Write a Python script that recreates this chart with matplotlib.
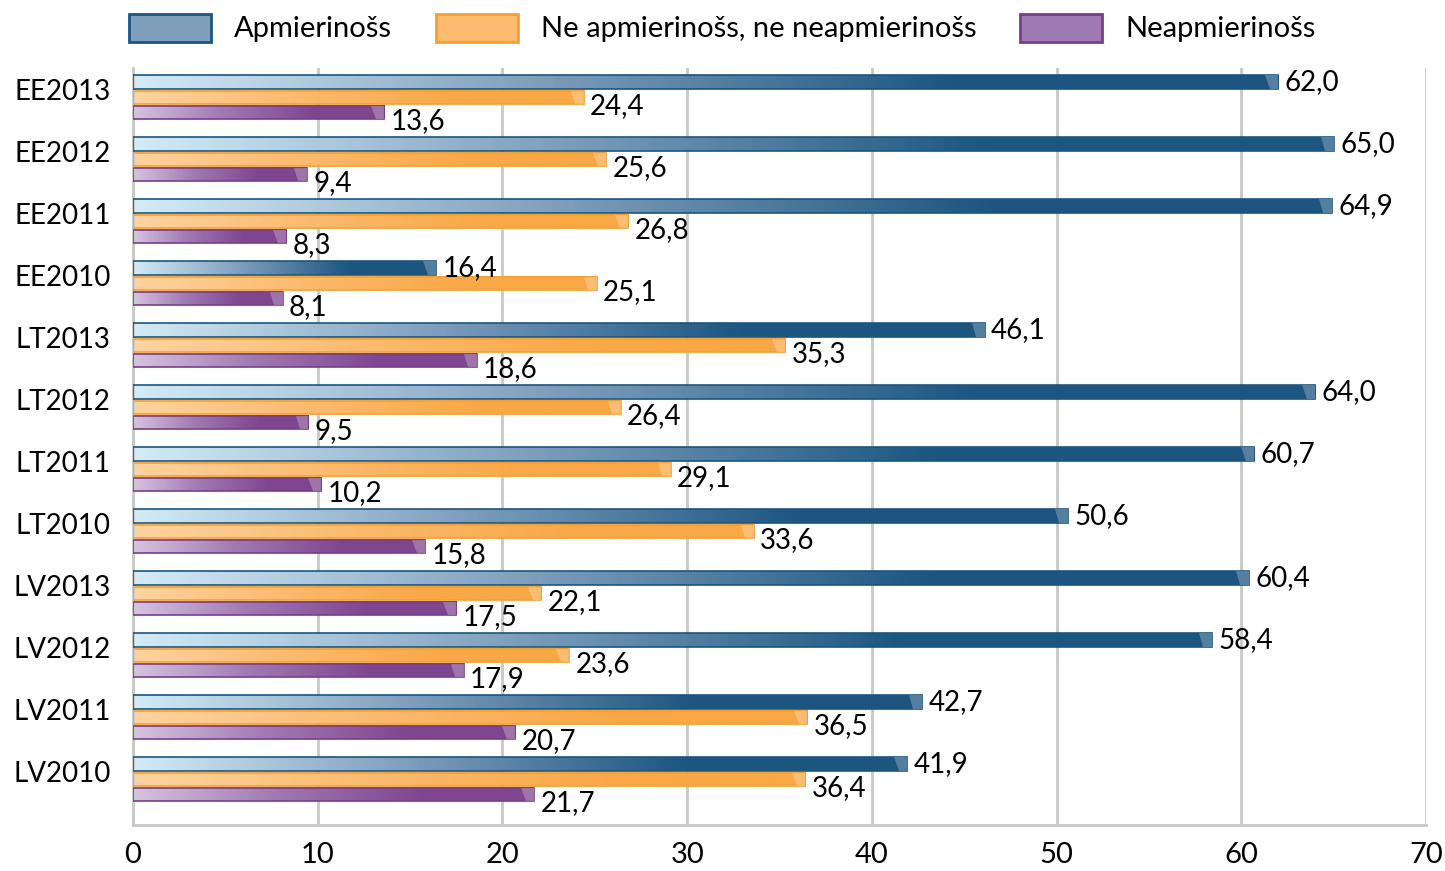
import matplotlib.pyplot as plt
import numpy as np
from matplotlib.colors import LinearSegmentedColormap
from matplotlib.patches import Patch, Polygon

categories = ['EE2013', 'EE2012', 'EE2011', 'EE2010', 'LT2013', 'LT2012',
              'LT2011', 'LT2010', 'LV2013', 'LV2012', 'LV2011', 'LV2010']
apmierinoss = [62.0, 65.0, 64.9, 16.4, 46.1, 64.0, 60.7, 50.6, 60.4, 58.4, 42.7, 41.9]
ne_ne = [24.4, 25.6, 26.8, 25.1, 35.3, 26.4, 29.1, 33.6, 22.1, 23.6, 36.5, 36.4]
neapmierinoss = [13.6, 9.4, 8.3, 8.1, 18.6, 9.5, 10.2, 15.8, 17.5, 17.9, 20.7, 21.7]
series_names = ['Apmierinošs', 'Ne apmierinošs, ne neapmierinošs', 'Neapmierinošs']
x_ticks = [0, 10, 20, 30, 40, 50, 60, 70]

plt.rcParams['font.family'] = ['Lato', 'DejaVu Sans']

styles = [
    # light, mid, dark, edge
    ('#d3ebf7', '#7f9fbd', '#1b5580', '#1b5580'),
    ('#fed3a0', '#fbbb70', '#f9a846', '#f7a030'),
    ('#d6c4df', '#a07ab2', '#7f4690', '#7a3d8c'),
]

fig = plt.figure(figsize=(14.45, 8.71), dpi=100)
ax = fig.add_axes([133 / 1445, 1 - 825 / 871, (1426 - 133) / 1445, (825 - 68) / 871])

h = 0.22
offsets = [-0.12, 0.125, 0.37]
label_dy = [0.0, 0.14, 0.13]
grad = np.linspace(0, 1, 256)[None, :]

for s, vals in enumerate([apmierinoss, ne_ne, neapmierinoss]):
    light, mid, dark, edge = styles[s]
    cmap = LinearSegmentedColormap.from_list('g%d' % s,
                                             [(0, light), (0.35, mid), (0.72, dark), (1, dark)])
    for i, v in enumerate(vals):
        y = i + offsets[s]
        ax.imshow(grad, extent=[0, v, y + h / 2, y - h / 2], aspect='auto',
                  cmap=cmap, zorder=2, interpolation='bilinear')
        ax.barh(y, v, height=h, fill=False, edgecolor=edge, linewidth=1.2, zorder=3)
        # glossy highlight at the bar end
        ax.add_patch(Polygon([(v - 0.7, y - h / 2), (v, y - h / 2), (v, y + h / 2),
                              (v - 0.45, y + h / 2)], closed=True,
                             facecolor='white', alpha=0.25, edgecolor='none', zorder=4))
        ax.text(v + 0.35, y + label_dy[s], f'{v:.1f}'.replace('.', ','),
                ha='left', va='center', fontsize=20, color='black', zorder=5)

ax.set_xlim(0, 70)
ax.set_ylim(11.86, -0.35)
ax.set_xticks(x_ticks)
ax.set_xticklabels([str(t) for t in x_ticks], fontsize=21)
ax.set_yticks(range(len(categories)))
ax.set_yticklabels(categories, fontsize=20)
ax.tick_params(axis='both', length=0)
ax.tick_params(axis='x', pad=12)
ax.tick_params(axis='y', pad=16)
ax.grid(axis='x', color='#c8c8c8', linewidth=2, zorder=0)
ax.set_axisbelow(True)
for side in ['top', 'right']:
    ax.spines[side].set_visible(False)
for side in ['left', 'bottom']:
    ax.spines[side].set_color('#c8c8c8')
    ax.spines[side].set_linewidth(2)

handles = [Patch(facecolor=styles[k][1], edgecolor=styles[k][3], linewidth=2)
           for k in range(3)]
fig.legend(handles, series_names, loc='center', bbox_to_anchor=(0.5, 1 - 28 / 871),
           ncol=3, frameon=False, fontsize=21, handlelength=2.8, handleheight=1.1,
           columnspacing=1.5, handletextpad=0.8)

fig.savefig('out.png', dpi=100)
